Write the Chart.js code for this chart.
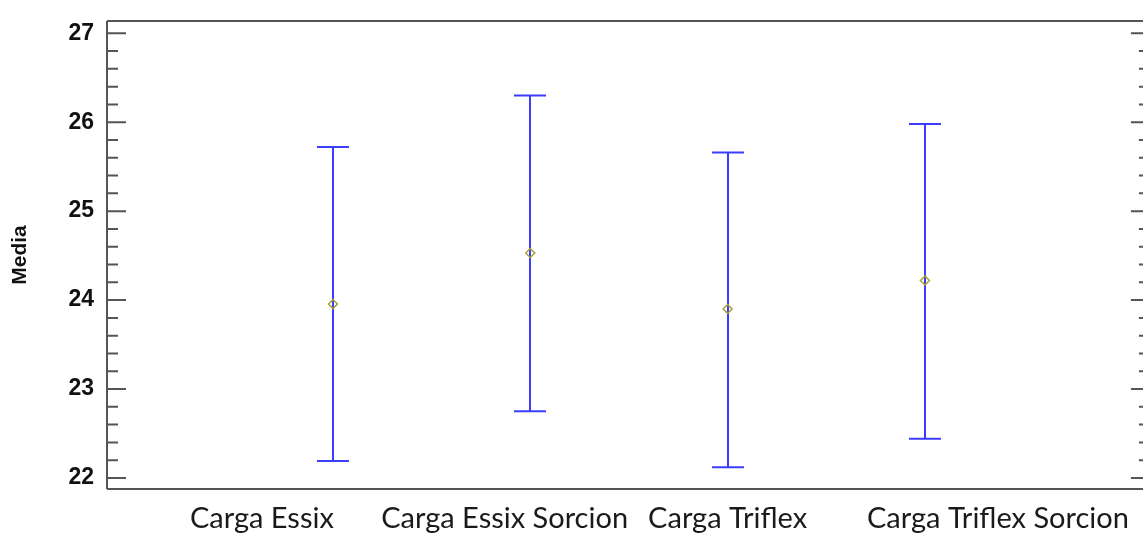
<!DOCTYPE html>
<html>
<head>
<meta charset="utf-8">
<script src="https://cdn.jsdelivr.net/npm/chart.js@4/dist/chart.umd.min.js"></script>
<style>
  html, body { margin: 0; padding: 0; background: #fff; overflow: hidden; }
  canvas { display: block; }
</style>
</head>
<body>
<canvas id="chart" width="1143" height="535"></canvas>
<script>
// data
const categories = ['Carga Essix', 'Carga Essix Sorcion', 'Carga Triflex', 'Carga Triflex Sorcion'];
const groupX = [1, 2, 3, 4];
const labelX = [0.64, 1.87, 3.0, 4.37]; // where the pasted labels sit
const means = [23.955, 24.53, 23.90, 24.22];
const upper = [25.72, 26.30, 25.66, 25.98];
const lower = [22.19, 22.75, 22.12, 22.44];
const yTicks = [22, 23, 24, 25, 26, 27];

const yMin = 21.876, yMax = 27.138;
const xMin = -0.145, xMax = 5.105;
const xRightAxis = 5.14; // right frame sits just past the cropped edge

const frameColor = '#555555';
const barColor = '#3c3cff';
const meanColor = '#aaa030';

// frame, inward tick marks, y title
const framePlugin = {
  id: 'frame',
  afterDraw(chart) {
    const { ctx, chartArea: a, scales } = chart;
    const y = scales.y;
    const rx = scales.x.getPixelForValue(xRightAxis);
    ctx.save();
    ctx.strokeStyle = frameColor;
    ctx.lineWidth = 2;
    ctx.beginPath();
    ctx.moveTo(a.left, a.top); ctx.lineTo(rx, a.top);
    ctx.moveTo(a.left, a.top); ctx.lineTo(a.left, a.bottom);
    ctx.moveTo(a.left, a.bottom); ctx.lineTo(rx, a.bottom);
    ctx.moveTo(rx, a.top); ctx.lineTo(rx, a.bottom);
    ctx.stroke();

    ctx.beginPath();
    yTicks.forEach((v, i) => {
      const py = y.getPixelForValue(v);
      ctx.moveTo(a.left, py); ctx.lineTo(a.left + 19, py);
      ctx.moveTo(rx, py); ctx.lineTo(rx - 19, py);
      if (i < yTicks.length - 1) {
        for (let k = 1; k < 5; k++) {
          const pm = y.getPixelForValue(v + k * 0.2);
          ctx.moveTo(a.left, pm); ctx.lineTo(a.left + 11, pm);
          ctx.moveTo(rx, pm); ctx.lineTo(rx - 11, pm);
        }
      }
    });
    ctx.stroke();

    ctx.fillStyle = '#111';
    ctx.font = 'bold 21px "Liberation Sans", Arial, sans-serif';
    ctx.textAlign = 'center';
    ctx.textBaseline = 'middle';
    ctx.translate(20, (a.top + a.bottom) / 2);
    ctx.rotate(-Math.PI / 2);
    ctx.fillText('Media', 0, 0);
    ctx.restore();
  }
};

// interval bars with caps
const errorBarPlugin = {
  id: 'errorBars',
  beforeDatasetsDraw(chart) {
    const { ctx, scales } = chart;
    const x = scales.x, y = scales.y;
    ctx.save();
    ctx.strokeStyle = barColor;
    ctx.lineWidth = 2;
    ctx.beginPath();
    groupX.forEach((gx, i) => {
      const px = Math.round(x.getPixelForValue(gx));
      const top = y.getPixelForValue(upper[i]);
      const bot = y.getPixelForValue(lower[i]);
      ctx.moveTo(px, top); ctx.lineTo(px, bot);
      ctx.moveTo(px - 16, top); ctx.lineTo(px + 16, top);
      ctx.moveTo(px - 16, bot); ctx.lineTo(px + 16, bot);
    });
    ctx.stroke();
    ctx.restore();
  }
};

new Chart(document.getElementById('chart'), {
  type: 'scatter',
  data: {
    datasets: [{
      data: groupX.map((gx, i) => ({ x: gx, y: means[i] })),
      pointStyle: 'rectRot',
      pointRadius: 4.5,
      borderWidth: 1.5,
      borderColor: meanColor,
      backgroundColor: 'rgba(0,0,0,0)'
    }]
  },
  options: {
    responsive: false,
    maintainAspectRatio: false,
    devicePixelRatio: 1,
    animation: false,
    layout: { autoPadding: false, padding: { top: 21, right: 0, bottom: 0, left: 0 } },
    plugins: {
      legend: { display: false },
      tooltip: { enabled: false }
    },
    scales: {
      x: {
        type: 'linear',
        min: xMin,
        max: xMax,
        grid: { display: false, drawTicks: false },
        border: { display: false },
        afterBuildTicks: axis => { axis.ticks = labelX.map(v => ({ value: v })); },
        afterFit: scale => {
          scale.height = 46;
          scale.paddingLeft = 0; scale.paddingRight = 0;
        },
        ticks: {
          autoSkip: false,
          maxRotation: 0,
          padding: 12,
          color: '#1a1a1a',
          font: { family: 'Lato, "Open Sans", sans-serif', size: 29 },
          callback: (v, i) => categories[i]
        }
      },
      y: {
        min: yMin,
        max: yMax,
        grid: { display: false, drawTicks: false },
        border: { display: false },
        afterBuildTicks: axis => { axis.ticks = yTicks.map(v => ({ value: v })); },
        afterFit: scale => {
          scale.width = 107;
          scale.paddingTop = 0; scale.paddingBottom = 0;
        },
        ticks: {
          padding: 13,
          color: '#111',
          font: { family: '"Liberation Sans", Arial, sans-serif', size: 23, weight: 'bold' },
          callback: v => String(v)
        }
      }
    }
  },
  plugins: [errorBarPlugin, framePlugin]
});
</script>
</body>
</html>
